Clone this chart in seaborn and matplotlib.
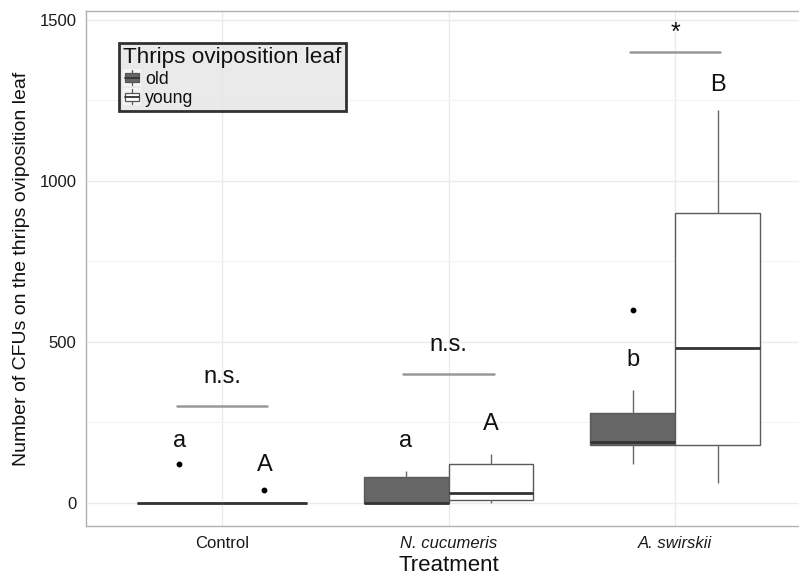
import matplotlib
matplotlib.use("Agg")
import matplotlib.pyplot as plt
import seaborn as sns
import pandas as pd
import numpy as np
from matplotlib.patches import Rectangle
from matplotlib.lines import Line2D
from matplotlib.legend_handler import HandlerBase
from matplotlib.ticker import MultipleLocator

# ---------------- data ----------------
treatments = ["Control", "N. cucumeris", "A. swirskii"]
leaf_levels = ["old", "young"]

control_old = [0, 0, 0, 0, 0, 0, 0, 0, 120]
control_young = [0, 0, 0, 0, 0, 0, 0, 0, 40]
ncuc_old = [0, 0, 0, 0, 0, 50, 80, 90, 100]
ncuc_young = [0, 5, 10, 20, 30, 80, 120, 140, 150]
aswi_old = [120, 150, 180, 185, 190, 230, 280, 350, 600]
aswi_young = [60, 120, 180, 300, 480, 700, 900, 1100, 1220]

letters_old = ["a", "a", "b"]
letters_old_y = [192, 192, 444]
letters_young = ["A", "A", "B"]
letters_young_y = [118, 245, 1298]
sig_labels = ["n.s.", "n.s.", "*"]
sig_line_y = [300, 400, 1400]
sig_text_y = [390, 490, 1460]

groups = {
    ("Control", "old"): control_old,
    ("Control", "young"): control_young,
    ("N. cucumeris", "old"): ncuc_old,
    ("N. cucumeris", "young"): ncuc_young,
    ("A. swirskii", "old"): aswi_old,
    ("A. swirskii", "young"): aswi_young,
}
rows = []
for (t, l), vals in groups.items():
    for v in vals:
        rows.append({"Treatment": t, "leaf": l, "CFU": v})
df = pd.DataFrame(rows)

# ---------------- style ----------------
sns.set_style("white")
plt.rcParams["font.family"] = ["Liberation Sans", "DejaVu Sans"]

fig = plt.figure(figsize=(7.99, 5.77), dpi=100)
W, H = 799, 577
ax_left, ax_right, ax_top, ax_bottom = 86, 811, 11, 526
ax = fig.add_axes([ax_left / W, 1 - ax_bottom / H, (ax_right - ax_left) / W, (ax_bottom - ax_top) / H])

palette = {"old": "#666666", "young": "#ffffff"}
sns.boxplot(
    data=df, x="Treatment", y="CFU", hue="leaf", order=treatments, hue_order=leaf_levels,
    palette=palette, saturation=1, width=0.75, gap=0, dodge=True,
    linecolor="#5a5a5a", linewidth=1.0, fliersize=3.2,
    flierprops=dict(marker="o", markerfacecolor="black", markeredgecolor="black"),
    medianprops=dict(color="#333333", linewidth=2.0),
    whiskerprops=dict(color="#6a6a6a", linewidth=1.0),
    showcaps=False,
    legend=False, ax=ax, zorder=3,
)

ax.set_xlim(-0.6, 2.6)
ax.set_ylim(-72, 1527)
ax.yaxis.set_major_locator(MultipleLocator(500))
ax.yaxis.set_minor_locator(MultipleLocator(250))
ax.grid(True, which="major", color="#ebebeb", linewidth=1.0, zorder=0)
ax.grid(True, which="minor", axis="y", color="#f4f4f4", linewidth=0.8, zorder=0)
ax.set_axisbelow(True)
for s in ax.spines.values():
    s.set_color("#b0b0b0")
    s.set_linewidth(1.0)
ax.tick_params(axis="both", which="major", length=4, color="#8a8a8a", width=1.0,
               labelsize=12, labelcolor="#1a1a1a", pad=3)
ax.tick_params(axis="y", which="minor", length=0)
ax.set_xticks(range(len(treatments)))
ax.set_xticklabels(treatments)
for i, lab in enumerate(ax.get_xticklabels()):
    if i > 0:
        lab.set_fontstyle("italic")
ax.set_yticks([0, 500, 1000, 1500])
ax.set_yticklabels(["0", "500", "1000", "1500"])
ax.set_xlabel("Treatment", fontsize=16, color="#111111", labelpad=3)
ax.set_ylabel("Number of CFUs on the thrips oviposition leaf", fontsize=14, color="#111111", labelpad=7)

# annotations
off = 0.1875
for i in range(len(treatments)):
    ax.plot([i - 0.2, i + 0.2], [sig_line_y[i]] * 2, color="#999999", lw=1.8, zorder=4)
    ax.text(i, sig_text_y[i], sig_labels[i], ha="center", va="center",
            fontsize=17 if sig_labels[i] != "*" else 18, color="#111111")
    ax.text(i - off, letters_old_y[i], letters_old[i], ha="center", va="center", fontsize=17, color="#111111")
    ax.text(i + off, letters_young_y[i], letters_young[i], ha="center", va="center", fontsize=17, color="#111111")


# legend with mini-boxplot keys
class BoxHandler(HandlerBase):
    def create_artists(self, legend, orig_handle, xdescent, ydescent, width, height, fontsize, trans):
        x0, y0 = -xdescent, -ydescent
        arts = []
        bg = Rectangle((x0, y0), width, height, facecolor="#f5f5f5", edgecolor="none", transform=trans)
        arts.append(bg)
        cx = x0 + width / 2
        arts.append(Line2D([cx, cx], [y0 + 0.05 * height, y0 + 0.95 * height], color="#555555", lw=0.9, transform=trans))
        box = Rectangle((x0 + 0.1 * width, y0 + 0.25 * height), 0.8 * width, 0.5 * height,
                        facecolor=orig_handle.get_facecolor(), edgecolor="#555555", lw=0.9, transform=trans)
        arts.append(box)
        arts.append(Line2D([x0 + 0.1 * width, x0 + 0.9 * width], [y0 + 0.5 * height] * 2, color="#333333", lw=1.3, transform=trans))
        return arts


handles = [Rectangle((0, 0), 1, 1, facecolor=palette[l]) for l in leaf_levels]
leg = ax.legend(handles, leaf_levels, title="Thrips oviposition leaf", loc="upper left",
                bbox_to_anchor=(0.0455, 0.938), handler_map={Rectangle: BoxHandler()},
                fontsize=12.8, title_fontsize=16.2, handlelength=1.0, handleheight=1.05,
                handletextpad=0.2, labelspacing=0.05, borderpad=0.25, borderaxespad=0,
                frameon=True, fancybox=False, alignment="left")
leg.get_frame().set_facecolor("#e5e5e5")
leg.get_frame().set_edgecolor("black")
leg.get_frame().set_linewidth(2.0)
leg.set_zorder(10)
for t in leg.get_texts():
    t.set_color("#111111")
leg.get_title().set_color("#111111")

fig.savefig("out.png", dpi=100)
